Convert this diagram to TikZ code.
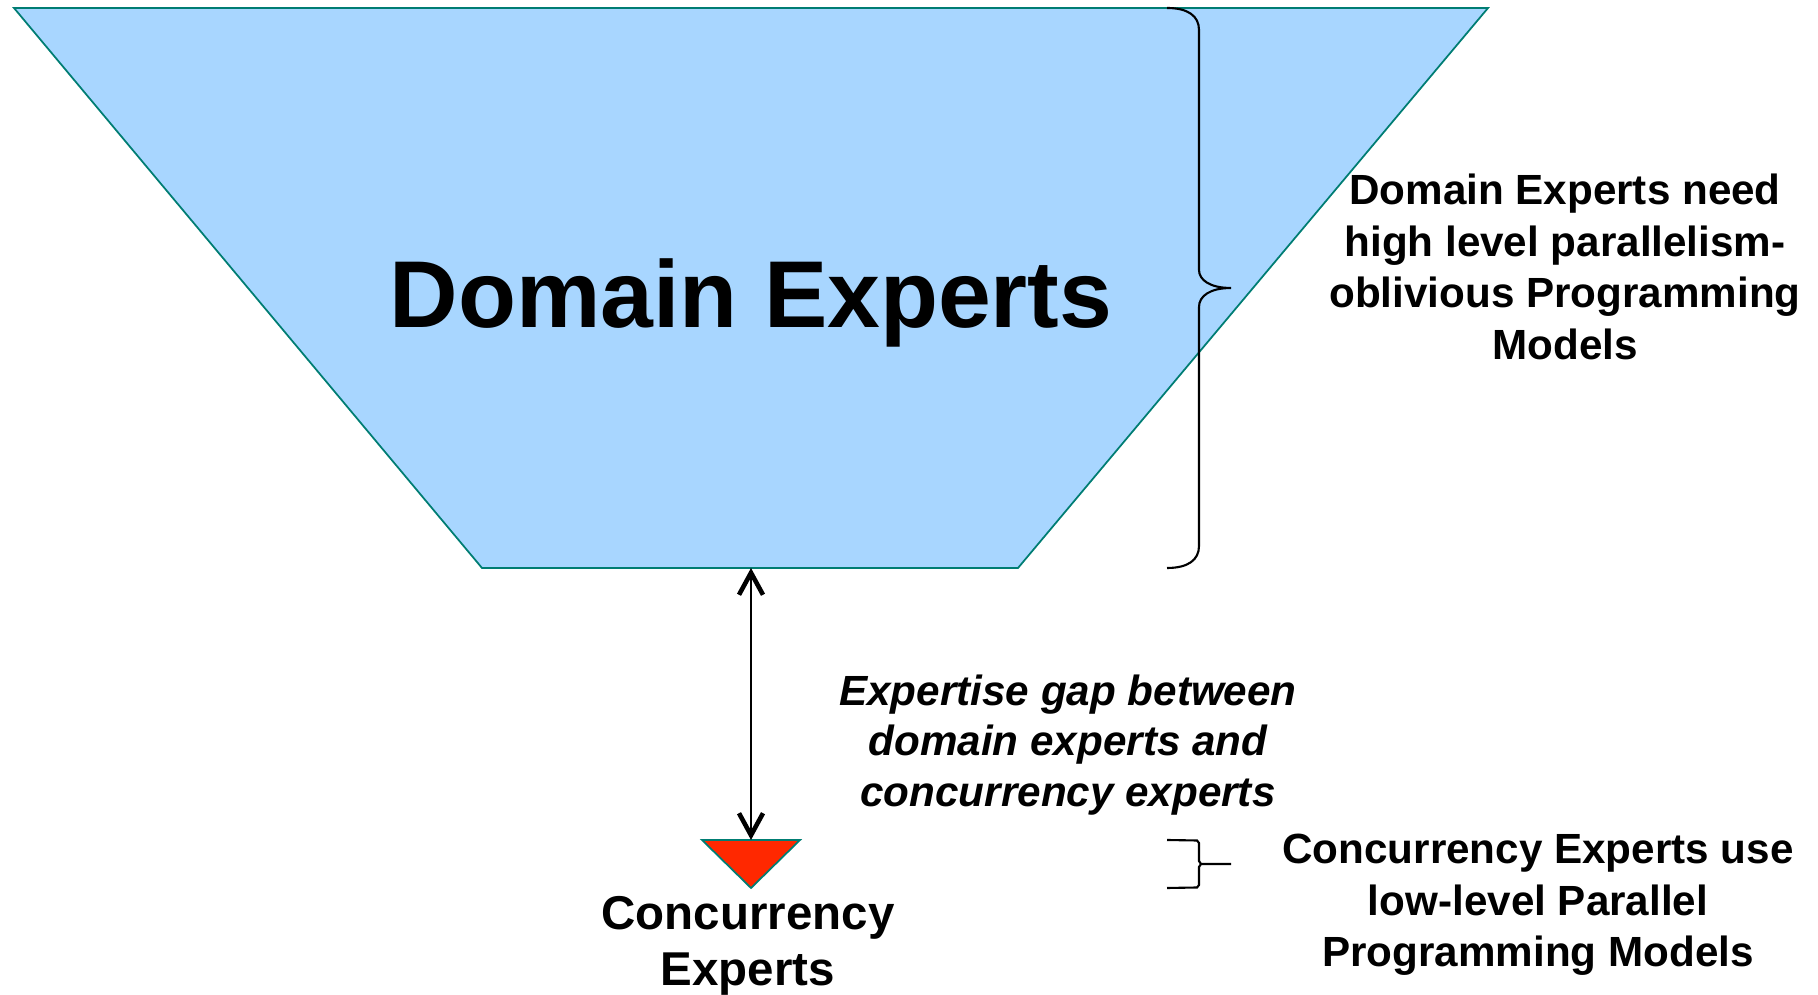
\documentclass[tikz,border=0pt]{standalone}
\usepackage{fontspec}
\setmainfont{Liberation Sans}
\usetikzlibrary{arrows.meta}

\definecolor{domfill}{RGB}{168,214,255}
\definecolor{rimteal}{RGB}{0,125,115}
\definecolor{concred}{RGB}{255,40,0}

\tikzset{barb/.tip={Straight Barb[length=2.2mm, width=2.4mm, line width=1.3pt]}}

\begin{document}
\begin{tikzpicture}[x=0.01cm, y=-0.01cm,
    note/.style={font=\bfseries\fontsize{12}{14.7}\selectfont, align=center, inner sep=0pt},
    gapnote/.style={font=\bfseries\itshape\fontsize{12}{14.4}\selectfont, align=center, inner sep=0pt},
    bracket/.style={line width=0.6pt}]
    \useasboundingbox (0,0) rectangle (1818,995);

    \draw[fill=domfill, draw=rimteal, line width=0.5pt]
        (14,8) -- (1488,8) -- (1018,568) -- (482,568) -- cycle;
    \coordinate (dombot) at (751,568);
    \node[inner sep=0pt, anchor=base, font=\bfseries\fontsize{27}{32}\selectfont] (dom) at (751,328) {Domain Experts};

    \draw[fill=concred, draw=rimteal, line width=0.5pt]
        (702,840) -- (800,840) -- (751,888) -- cycle;
    \coordinate (contop) at (751,840);
    \node[font=\bfseries\fontsize{13.5}{15.8}\selectfont, align=center, inner sep=0pt] (con) at (748,946) {Concurrency\\Experts};

    \draw[line width=0.5pt, barb-barb] (dombot) -- (contop);

    \node[gapnote] (gap) at (1068,745) {Expertise gap between\\domain experts and\\concurrency experts};

    \draw[bracket] (1167,8) .. controls (1188,8) and (1199,16) .. (1199,30) -- (1199,270)
        .. controls (1199,280) and (1210,288) .. (1231,288)
        .. controls (1210,288) and (1199,296) .. (1199,307) -- (1199,546)
        .. controls (1199,560) and (1188,568) .. (1167,568);
    \node[note] (highnote) at (1565,267) {Domain Experts need\\high level parallelism-\\oblivious Programming\\Models};

    \draw[bracket] (1167,840) -- (1197,840.5) -- (1199,843) -- (1199,861) -- (1201,864) -- (1231,864)
        (1201,864) -- (1199,867) -- (1199,885) -- (1197,887.5) -- (1167,888);
    \node[note] (lownote) at (1538,905) {Concurrency Experts use\\low-level Parallel\\Programming Models};
\end{tikzpicture}
\end{document}
